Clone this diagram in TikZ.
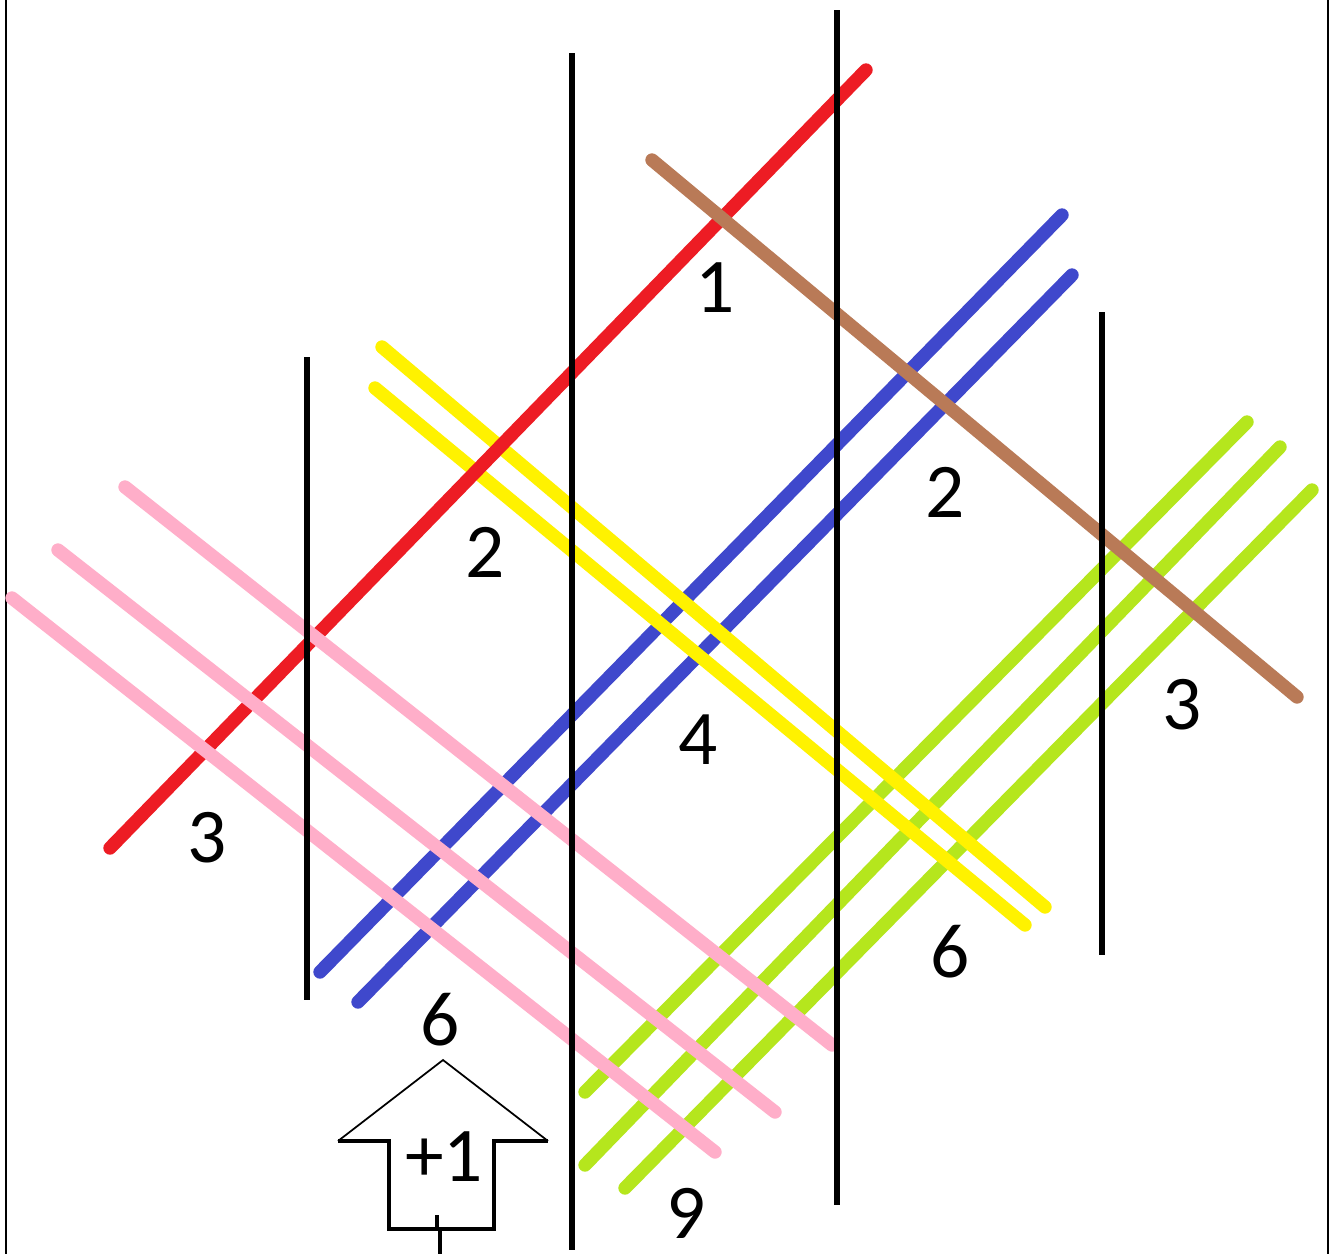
\documentclass[tikz,border=0pt]{standalone}
\usepackage{fontspec}
\setmainfont{Carlito}
\usepackage{tikz}
\definecolor{pred}{HTML}{ED1C24}
\definecolor{pbrown}{HTML}{B97A57}
\definecolor{pblue}{HTML}{3F48CC}
\definecolor{pyellow}{HTML}{FFF200}
\definecolor{ppink}{HTML}{FFAEC9}
\definecolor{plime}{HTML}{B5E61D}
\tikzset{
  stroke/.style={draw=#1, line width=3.8pt, line cap=round},
  bar/.style={draw=black, line width=1.5pt},
  lbl/.style={font=\fontsize{22}{24}\selectfont, inner sep=0pt},
}
\begin{document}
\begin{tikzpicture}[x=0.01cm, y=-0.01cm]
  \useasboundingbox (0,0) rectangle (1331,1254);
  \fill[white] (0,0) rectangle (1331,1254);
  % frame sides
  \draw[line width=0.6pt] (6,0) -- (6,1254);
  \draw[line width=0.6pt] (1328,0) -- (1328,1254);
  % lime strokes
  \draw[stroke=plime] (585,1092) -- (1247,422);
  \draw[stroke=plime] (585,1165) -- (1280,447);
  \draw[stroke=plime] (625,1188) -- (1312,490);
  % blue strokes
  \draw[stroke=pblue] (320,972) -- (1062,215);
  \draw[stroke=pblue] (358,1002) -- (1072,275);
  % yellow strokes
  \draw[stroke=pyellow] (382,347) -- (1045,907);
  \draw[stroke=pyellow] (375,388) -- (1025,925);
  % red stroke
  \draw[stroke=pred] (110,848) -- (866,70);
  % pink strokes
  \foreach \xa/\ya/\xb/\yb in {125/487/832/1045, 58/550/775/1112, 12/598/715/1152}
    \draw[stroke=ppink] (\xa,\ya) -- (\xb,\yb);
  % brown stroke
  \draw[stroke=pbrown] (652,160) -- (1297,697);
  % black bars
  \draw[bar] (572,53) -- (572,1250);
  \draw[bar] (837,10) -- (837,1205);
  \draw[bar] (307,357) -- (307,1000);
  \draw[bar] (1102,312) -- (1102,955);
  % counts
  \node[lbl] (n1) at (715,288) {1};
  \node[lbl] (n2a) at (945,492) {2};
  \node[lbl] (n2b) at (485,552) {2};
  \node[lbl] (n3a) at (1182,705) {3};
  \node[lbl] (n3b) at (207,838) {3};
  \node[lbl] (n4) at (698,740) {4};
  \node[lbl] (n6a) at (950,952) {6};
  \node[lbl] (n6b) at (440,1020) {6};
  \node[lbl] (n9) at (686,1213) {9};
  % up arrow
  \draw[line width=0.5pt] (338,1141) -- (443,1060) -- (548,1141);
  \draw[line width=1pt] (338,1141) -- (389,1141) -- (389,1229) -- (494,1229)
    -- (494,1141) -- (548,1141);
  \draw[line width=1pt] (437,1215) -- (437,1229);
  \draw[line width=1pt] (440,1229) -- (440,1254);
  \node[lbl] (plus) at (444,1157) {+1};
\end{tikzpicture}
\end{document}
